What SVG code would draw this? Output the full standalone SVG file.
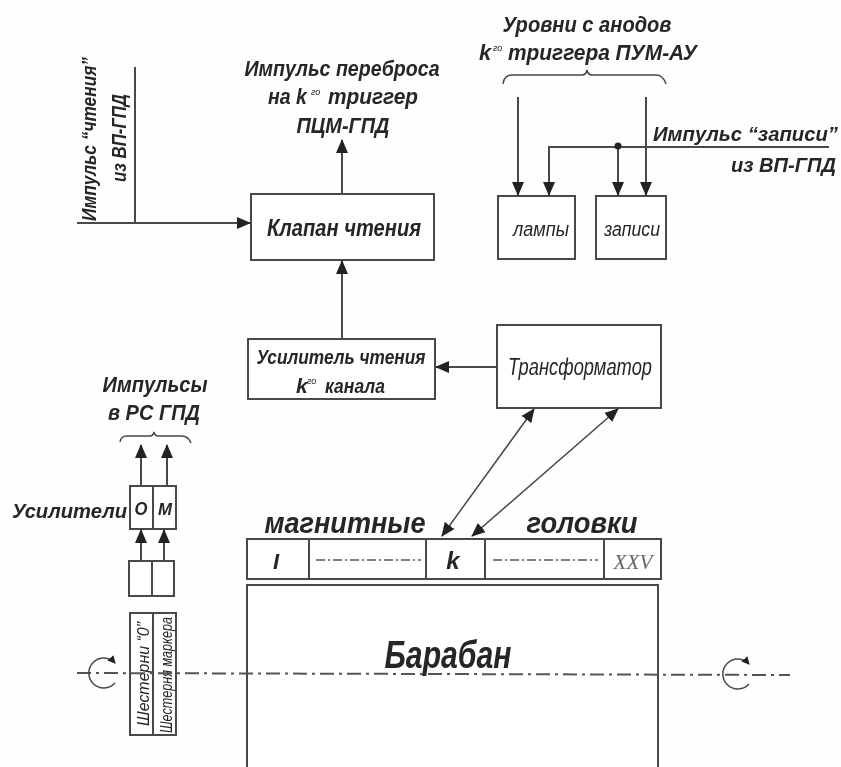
<svg xmlns="http://www.w3.org/2000/svg" width="841" height="767" viewBox="0 0 841 767">
<defs>
<style>
text{font-family:"Liberation Sans",Arial,sans-serif;font-style:italic;fill:#262626;text-anchor:middle}
.b{font-weight:bold}
.e{text-anchor:end}
.s{text-anchor:start}
.box{fill:#fff;stroke:#484848;stroke-width:2}
.l{fill:none;stroke:#484848;stroke-width:2}
.t{fill:none;stroke:#484848;stroke-width:1.5}
.axis{fill:none;stroke:#555;stroke-width:2;stroke-dasharray:14 5 3 5}
</style>
<filter id="soft" x="0" y="0" width="100%" height="100%"><feGaussianBlur stdDeviation="0.45"/></filter>
<marker id="a" viewBox="0 0 14 14" refX="13" refY="7" markerWidth="14" markerHeight="14" orient="auto-start-reverse" markerUnits="userSpaceOnUse"><path d="M0 1L14 7L0 13Z" fill="#222"/></marker>
<marker id="c" viewBox="0 0 8 8" refX="1" refY="4" markerWidth="8" markerHeight="8" orient="auto" markerUnits="userSpaceOnUse"><path d="M8 0L0 4L8 8Z" fill="#222"/></marker>
</defs>
<rect width="841" height="767" fill="#fefefc"/>
<g filter="url(#soft)">
<g id="klapan"><rect class="box" x="251" y="194" width="183" height="66"/><text class="b" x="344" y="236" font-size="23" textLength="154" lengthAdjust="spacingAndGlyphs">Клапан чтения</text></g>
<g id="lampy"><rect class="box" x="498" y="196" width="77" height="63"/><text x="541" y="236" font-size="20" textLength="56" lengthAdjust="spacingAndGlyphs">лампы</text></g>
<g id="zapisi"><rect class="box" x="596" y="196" width="70" height="63"/><text x="632" y="236" font-size="20" textLength="56" lengthAdjust="spacingAndGlyphs">записи</text></g>
<g id="usilitel"><rect class="box" x="248" y="339" width="187" height="60"/><text class="b" x="341" y="364" font-size="21" textLength="169" lengthAdjust="spacingAndGlyphs">Усилитель чтения</text><text class="b s" x="296" y="393" font-size="21">k</text><text class="s" x="307" y="384" font-size="9">го</text><text class="b s" x="325" y="393" font-size="21" textLength="60" lengthAdjust="spacingAndGlyphs">канала</text></g>
<g id="transformator"><rect class="box" x="497" y="325" width="164" height="83"/><text x="580" y="375" font-size="23" textLength="144" lengthAdjust="spacingAndGlyphs">Трансформатор</text></g>
<g id="golovki"><rect class="box" x="247" y="539" width="414" height="40"/><path class="l" d="M309 539V579M426 539V579M485 539V579M604 539V579"/><path fill="none" stroke="#555" stroke-width="1.5" stroke-dasharray="9 3 2 3" d="M316 560H421M493 560H598"/><text class="b" x="276" y="569" font-size="22">I</text><text class="b" x="453" y="569" font-size="24">k</text><text x="633" y="569" font-size="20" style="font-family:'Liberation Serif',serif;fill:#666" textLength="39" lengthAdjust="spacingAndGlyphs">XXV</text></g>
<g id="baraban"><path class="box" d="M247 767V585H658V767"/><text class="b" x="448" y="668" font-size="38" textLength="127" lengthAdjust="spacingAndGlyphs">Барабан</text></g>
<g id="usiliteli"><rect class="box" x="130" y="486" width="46" height="43"/><path class="l" d="M153 486V529"/><text class="b" x="141" y="515" font-size="18" textLength="13" lengthAdjust="spacingAndGlyphs">О</text><text class="b" x="165" y="515" font-size="17" textLength="14" lengthAdjust="spacingAndGlyphs">М</text></g>
<g id="datchiki"><rect class="box" x="129" y="561" width="45" height="35"/><path class="l" d="M152 561V596"/></g>
<g id="shesterni"><rect class="box" x="130" y="613" width="46" height="122"/><path class="l" d="M153 613V735"/><text transform="translate(149 674) rotate(-90)" font-size="17" textLength="104" lengthAdjust="spacingAndGlyphs">Шестерни “0”</text><text transform="translate(172 675) rotate(-90)" font-size="16" textLength="116" lengthAdjust="spacingAndGlyphs">Шестерня маркера</text></g>
<g id="connectors">
<path class="l" d="M135 67V223M77 223H135"/>
<path class="l" d="M135 223H250" marker-end="url(#a)"/>
<path class="l" d="M342 194V140" marker-end="url(#a)"/>
<path class="l" d="M342 339V261" marker-end="url(#a)"/>
<path class="l" d="M497 367H436" marker-end="url(#a)"/>
<path class="t" d="M534 409L442 536" marker-start="url(#a)" marker-end="url(#a)"/>
<path class="t" d="M618 409L472 536" marker-start="url(#a)" marker-end="url(#a)"/>
<path class="l" d="M518 97V195" marker-end="url(#a)"/>
<path class="l" d="M646 97V195" marker-end="url(#a)"/>
<path class="l" d="M829 147H549V195" marker-end="url(#a)"/>
<path class="l" d="M618 147V195" marker-end="url(#a)"/>
<circle cx="618" cy="146" r="3.5" fill="#222"/>
<path class="l" d="M141 486V445" marker-end="url(#a)"/>
<path class="l" d="M167 486V445" marker-end="url(#a)"/>
<path class="l" d="M141 561V530" marker-end="url(#a)"/>
<path class="l" d="M164 561V530" marker-end="url(#a)"/>
<path class="t" d="M503 84Q504 75 512 75H582Q586 75 587 70Q588 75 592 75H656Q663 75 666 84"/>
<path class="t" d="M120 442Q121 436 127 436H150Q153 436 154 432Q155 436 158 436H182Q188 436 191 443"/>
<path class="axis" d="M77 673L790 675"/>
<path class="t" d="M115 663A15 15 0 1 0 115 683" marker-start="url(#c)"/>
<path class="t" d="M749 664A15 15 0 1 0 749 684" marker-start="url(#c)"/>
</g>
<g id="labels">
<text class="b" x="342" y="76" font-size="22" textLength="195" lengthAdjust="spacingAndGlyphs">Импульс переброса</text>
<text class="b s" x="268" y="104" font-size="22" textLength="39" lengthAdjust="spacingAndGlyphs">на k</text><text class="s" x="311" y="95" font-size="9">го</text><text class="b s" x="328" y="104" font-size="22" textLength="90" lengthAdjust="spacingAndGlyphs">триггер</text>
<text class="b" x="343" y="133" font-size="22" textLength="93" lengthAdjust="spacingAndGlyphs">ПЦМ-ГПД</text>
<text transform="translate(96 139) rotate(-90)" font-size="21" class="b" textLength="164" lengthAdjust="spacingAndGlyphs">Импульс “чтения”</text>
<text transform="translate(126 138) rotate(-90)" font-size="21" class="b" textLength="88" lengthAdjust="spacingAndGlyphs">из ВП-ГПД</text>
<text class="b" x="587" y="32" font-size="22" textLength="169" lengthAdjust="spacingAndGlyphs">Уровни с анодов</text>
<text class="b s" x="479" y="60" font-size="22">k</text><text class="s" x="493" y="51" font-size="9">го</text><text class="b s" x="508" y="60" font-size="22" textLength="189" lengthAdjust="spacingAndGlyphs">триггера ПУМ-АУ</text>
<text class="b e" x="838" y="141" font-size="20" textLength="185" lengthAdjust="spacingAndGlyphs">Импульс “записи”</text>
<text class="b e" x="836" y="172" font-size="20" textLength="105" lengthAdjust="spacingAndGlyphs">из ВП-ГПД</text>
<text class="b" x="155" y="392" font-size="22" textLength="105" lengthAdjust="spacingAndGlyphs">Импульсы</text>
<text class="b" x="154" y="420" font-size="22" textLength="92" lengthAdjust="spacingAndGlyphs">в РС ГПД</text>
<text class="b e" x="127" y="518" font-size="20" textLength="115" lengthAdjust="spacingAndGlyphs">Усилители</text>
<text class="b" x="345" y="533" font-size="29" textLength="161" lengthAdjust="spacingAndGlyphs">магнитные</text>
<text class="b" x="582" y="533" font-size="29" textLength="111" lengthAdjust="spacingAndGlyphs">головки</text>
</g>
</g>
</svg>
